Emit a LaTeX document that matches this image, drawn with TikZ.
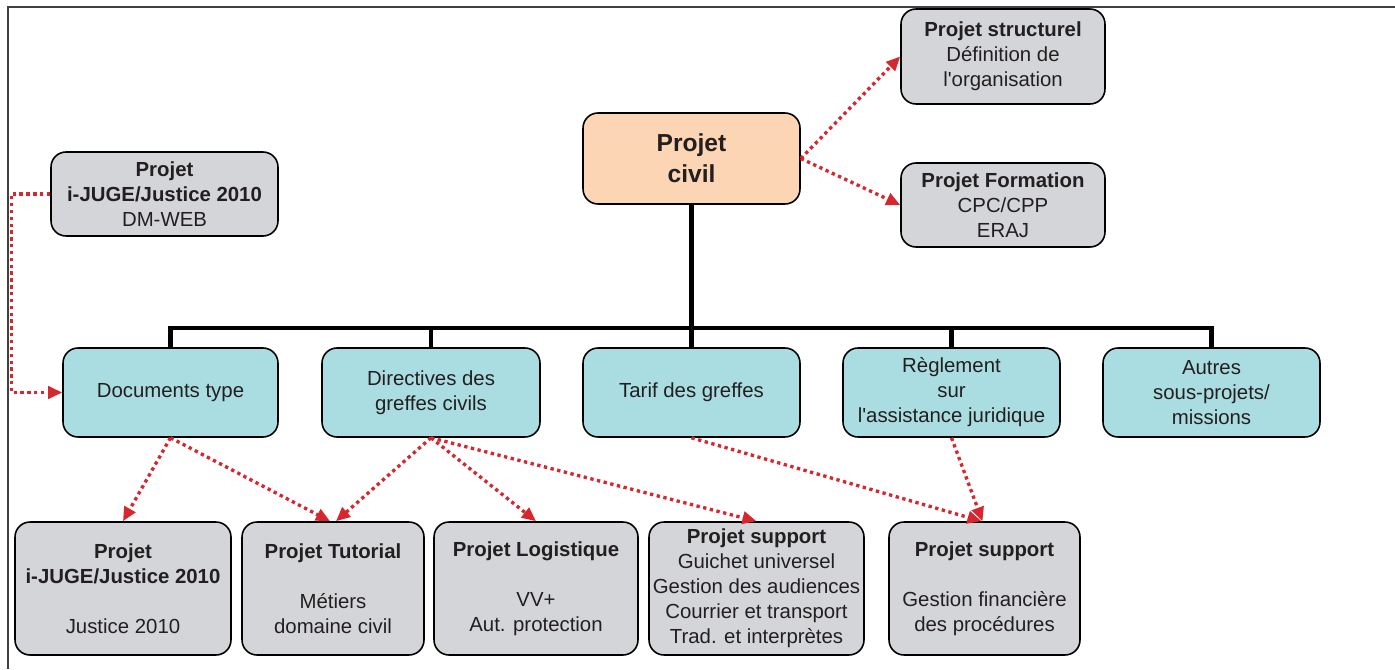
\documentclass[tikz,border=0pt]{standalone}
\usepackage{fontspec}
\setmainfont{Liberation Sans}[Ligatures=TeXOff]
\usepackage{tikz}
\usetikzlibrary{arrows.meta}
\definecolor{peche}{RGB}{252, 213, 180}
\definecolor{turquoise}{RGB}{170, 221, 225}
\definecolor{grisclair}{RGB}{212, 213, 216}
\definecolor{rougelien}{RGB}{214, 38, 46}
\definecolor{encre}{RGB}{35, 31, 32}

\begin{document}
\begin{tikzpicture}[x=0.02cm, y=-0.02cm,
    font=\fontsize{11.6}{14.2}\selectfont, text=encre,
    boite/.style={rectangle, rounded corners=0.3cm, draw=black, line width=0.9pt,
                  align=center, inner sep=0pt},
    racine/.style={boite, fill=peche, minimum width=4.34cm, minimum height=1.82cm,
                   font=\fontsize{14}{17.6}\selectfont\bfseries},
    projet/.style={boite, fill=grisclair},
    sousprojet/.style={boite, fill=turquoise, minimum width=4.34cm, minimum height=1.78cm},
    bas/.style={projet, minimum height=2.66cm},
    tronc/.style={line width=2.8pt, draw=black},
    lien/.style={-{Triangle[length=8pt, width=7pt]}, draw=rougelien,
                 line width=1.9pt, dash pattern=on 1.9pt off 2pt}]
    % cadre
    \useasboundingbox (0,0) rectangle (1395,669);
    \draw[line width=0.8pt, draw=black!75] (8,669) -- (8,7) -- (1395,7);
    % sommet
    \node[racine] (civil) at (691.5,158.5) {Projet\\civil};
    \node[projet, minimum width=4.08cm, minimum height=1.9cm] (structurel) at (1003,56.5)
        {\textbf{Projet structurel}\\Définition de\\l'organisation};
    \node[projet, minimum width=4.08cm, minimum height=1.68cm] (formation) at (1003,205)
        {\textbf{Projet Formation}\\CPC/CPP\\ERAJ};
    \node[projet, minimum width=4.54cm, minimum height=1.68cm] (ijuge) at (164.5,194)
        {\textbf{Projet}\\\textbf{i-JUGE/Justice 2010}\\DM-WEB};
    % sous-projets
    \node[sousprojet, minimum width=4.3cm] (documents) at (170.5,392.5) {Documents type};
    \node[sousprojet, minimum width=4.36cm] (directives) at (431,392.5) {Directives des\\greffes civils};
    \node[sousprojet] (tarif) at (691.5,392.5) {Tarif des greffes};
    \node[sousprojet] (reglement) at (951.5,392.5) {Règlement\\sur\\l'assistance juridique};
    \node[sousprojet] (autres) at (1211.5,392.5) {Autres\\sous-projets/\\missions};
    % projets lies
    \node[bas, minimum width=4.32cm] (justice) at (123,588.5)
        {\textbf{Projet}\\\textbf{i-JUGE/Justice 2010}\\[14.2pt]Justice 2010};
    \node[bas, minimum width=3.64cm] (tutorial) at (333,588.5)
        {\textbf{Projet Tutorial}\\[14.2pt]Métiers\\domaine civil};
    \node[bas, minimum width=4.08cm] (logistique) at (536,588.5)
        {\textbf{Projet Logistique}\\[14.2pt]VV+\\Aut. protection};
    \node[bas, minimum width=4.3cm] (support) at (756.5,588.5)
        {\textbf{Projet support}\\Guichet universel\\Gestion des audiences\\Courrier et transport\\Trad. et interprètes};
    \node[bas, minimum width=3.82cm] (finance) at (984.5,588.5)
        {\textbf{Projet support}\\[14.2pt]Gestion financière\\des procédures};
    % arborescence
    \coordinate (barre) at (691.5,328);
    \draw[tronc] (civil.south) -- (tarif.north);
    \foreach \n in {documents, directives, reglement, autres}
        \draw[tronc] (barre) -| (\n.north);
    % liens
    \draw[lien] (civil.east) -- (structurel.west);
    \draw[lien] (civil.east) -- (formation.west);
    \draw[lien] (ijuge.west) -- ++(-39,0) |- (documents.west);
    \draw[lien] (documents.south) -- (justice.north);
    \draw[lien] (documents.south) -- ([xshift=-0.06cm]tutorial.north);
    \draw[lien] (directives.south) -- ([xshift=0.06cm]tutorial.north);
    \draw[lien] (directives.south) -- (logistique.north);
    \draw[lien] (directives.south) -- (support.north);
    \draw[lien] (tarif.south) -- ([xshift=-0.06cm]finance.north);
    \draw[lien] (reglement.south) -- ([xshift=-0.04cm]finance.north);
\end{tikzpicture}
\end{document}
